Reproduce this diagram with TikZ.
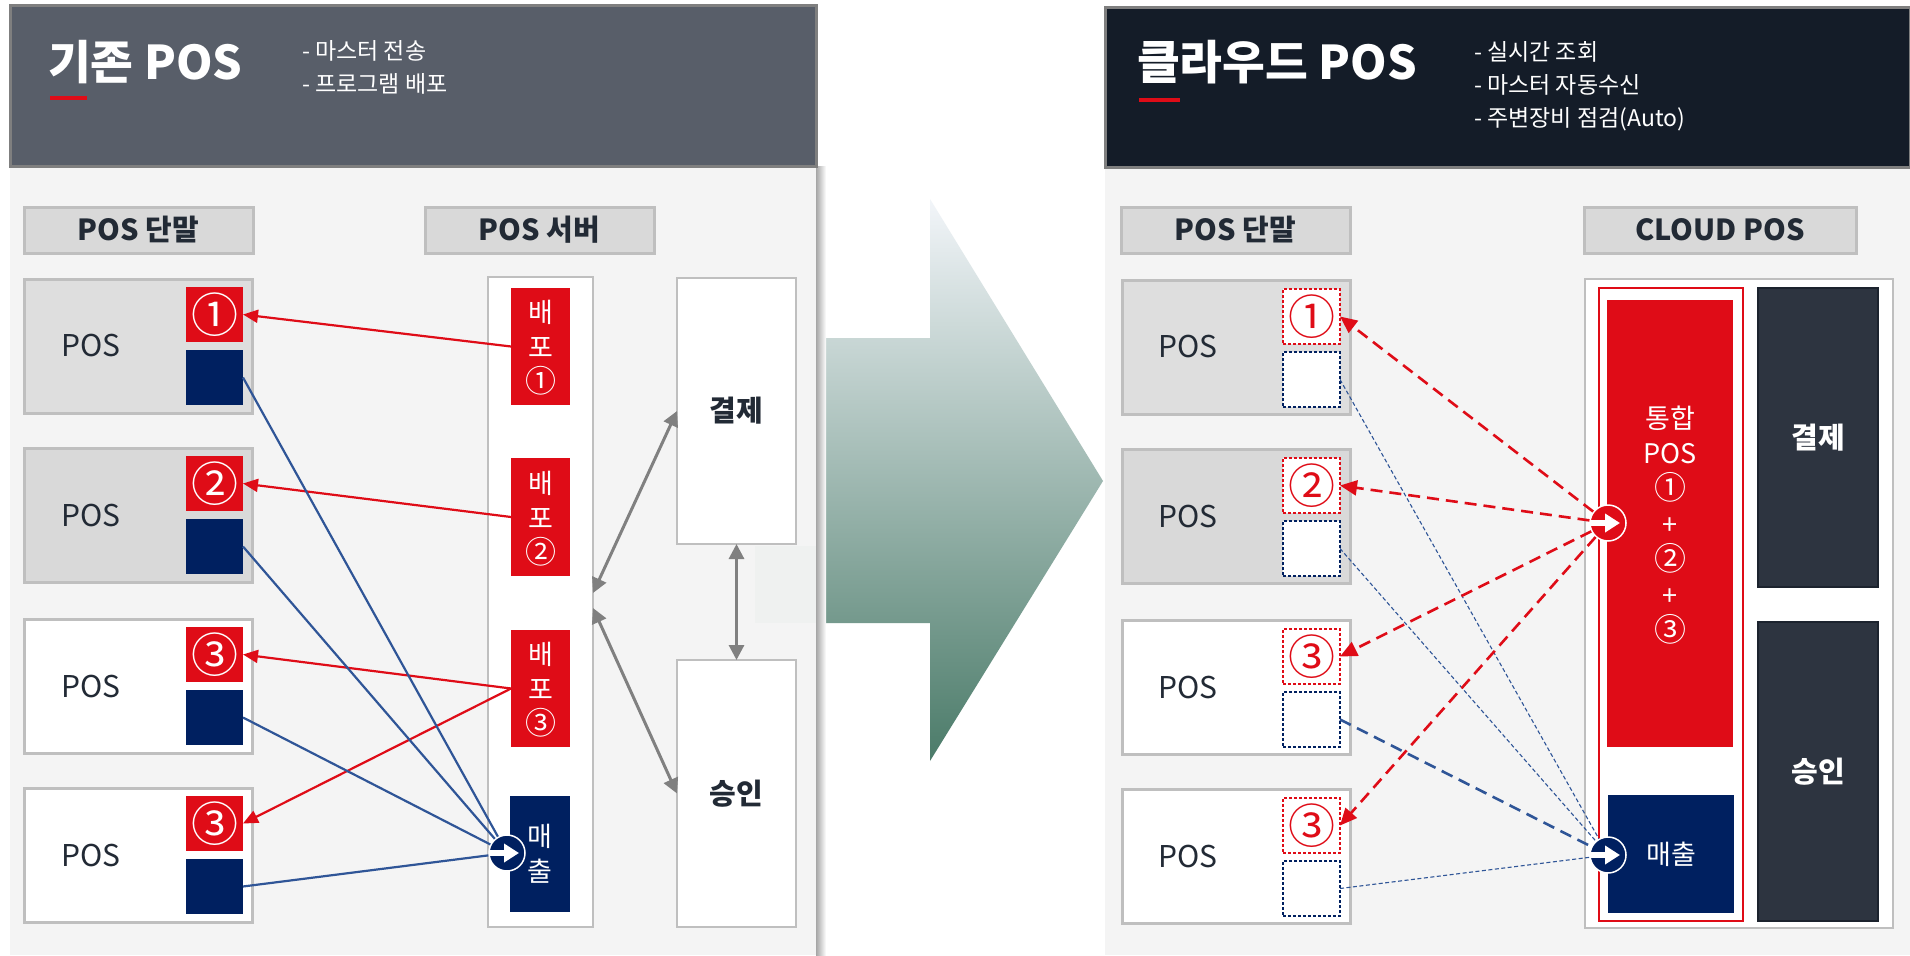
\documentclass[tikz,border=0pt]{standalone}
\usepackage{fontspec}
\setmainfont{Noto Sans CJK KR}
\usetikzlibrary{arrows.meta}
\definecolor{cred}{HTML}{DF0C17}
\definecolor{cnavy}{HTML}{002060}
\definecolor{cblue}{HTML}{2F5597}
\definecolor{clab}{HTML}{D9D9D9}
\definecolor{cbord}{HTML}{BFBFBF}
\definecolor{cpanel}{HTML}{F4F4F4}
\definecolor{cposA}{HTML}{DEDEDE}
\definecolor{cposB}{HTML}{D9D9D9}
\definecolor{cdark}{HTML}{2D3440}
\definecolor{cdarkb}{HTML}{1C232E}
\definecolor{ctext}{HTML}{222A35}
\definecolor{chdrL}{HTML}{585E69}
\definecolor{chdrR}{HTML}{141C28}
\definecolor{chdrB}{HTML}{7F7F7F}
\definecolor{cgray}{HTML}{808080}
\definecolor{arrTop}{HTML}{F2F5F9}
\definecolor{arrMid}{HTML}{9CC0B3}
\definecolor{arrBot}{HTML}{4B7B69}
\newcommand\fsz[2]{\fontsize{#1}{#2}\selectfont}
\newcommand\bigc[2]{\mbox{\fontsize{#1}{#1}\selectfont\smash{#2}}}
% \rbox{name}{style}{x1}{y1}{x2}{y2}{text}
\newcommand\rbox[7]{\node[#2, minimum width={(#5-#3)*1pt}, minimum height={(#6-#4)*1pt}] (#1) at ({(#3+#5)/2},{(#4+#6)/2}) {#7};}
\begin{document}
\begin{tikzpicture}[x=1pt,y=-1pt,
  bx/.style={inner sep=0pt, outer sep=0pt},
  hdrbox/.style={bx, draw=chdrB, line width=3pt},
  titletext/.style={text=white, font=\fsz{46.5}{52}\bfseries, inner sep=0pt, anchor=west},
  bulltext/.style={text=white, font=\fsz{23}{27}, inner sep=0pt, anchor=west},
  labbox/.style={bx, fill=clab, draw=cbord, line width=3pt, text=ctext, font=\fsz{29}{33}\bfseries},
  posbox/.style={bx, draw=cbord, line width=3pt},
  postext/.style={text=ctext, font=\fsz{30}{34}, inner sep=0pt, anchor=west},
  redsq/.style={bx, fill=cred, text=white, font=\fsz{47}{50}},
  bluesq/.style={bx, fill=cnavy},
  redd/.style={bx, fill=white, draw=cred, line width=1.2pt, dash pattern=on 3pt off 2pt, text=cred, font=\fsz{47}{50}},
  blued/.style={bx, fill=white, draw=cnavy, line width=1.2pt, dash pattern=on 3pt off 2pt},
  whitebox/.style={bx, fill=white, draw=cbord, line width=2.5pt},
  deploy/.style={bx, fill=cred, text=white, font=\fsz{27}{35}, align=center},
  salesbox/.style={bx, fill=cnavy, text=white, font=\fsz{27}{35}, align=center},
  darkbox/.style={bx, fill=cdark, draw=cdarkb, line width=2pt, text=white, font=\fsz{29}{34}\bfseries},
  marker/.style={circle, draw=white, line width=1.5pt, minimum size=36pt, inner sep=0pt},
  markarrow/.style={white, line width=6pt, -{Triangle[length=15pt,width=18pt]}},
  redarrow/.style={cred, line width=2.2pt, -{Triangle[length=15pt,width=13pt]}},
  bluelink/.style={cblue, line width=2.2pt},
  grayarrow/.style={cgray, line width=3pt, {Triangle[length=15pt,width=15pt]}-{Triangle[length=15pt,width=15pt]}},
  reddash/.style={cred, line width=2.6pt, dash pattern=on 12pt off 7pt, -{Triangle[length=17pt,width=15pt]}},
  bluedash/.style={cblue, line width=1.1pt, dash pattern=on 4pt off 2.5pt},
  bluedashthick/.style={cblue, line width=2.6pt, dash pattern=on 12pt off 7pt}
]
\useasboundingbox (0,0) rectangle (1910,955);
\fill[white] (0,0) rectangle (1910,955);

% ---------- big transition arrow ----------
\shade[top color=arrTop, middle color=arrMid, bottom color=arrBot]
  (755,338) -- (930,338) -- (930,199) -- (1103,481) -- (930,761) -- (930,623) -- (755,623) -- cycle;

% ---------- left panel ----------
\fill[cpanel] (10,166) rectangle (816,955);
\fill[cpanel!94!arrMid] (755,546) rectangle (816,623);
\shade[left color=black!35, right color=white] (816,166) rectangle (826,955);
\rbox{hdrL}{hdrbox, fill=chdrL}{10}{6}{816}{166}{}
\node[titletext] (titleL) at (48,62) {기존 POS};
\rbox{ulL}{bx, fill=cred}{50}{96}{87}{100}{}
\node[bulltext] (bulL1) at (302,51) {- 마스터 전송};
\node[bulltext] (bulL2) at (302,84) {- 프로그램 배포};

\rbox{labL1}{labbox}{24}{207}{253}{253}{POS 단말}
\rbox{labL2}{labbox}{425}{207}{654}{253}{POS 서버}

% POS terminals (left)
\rbox{pL1}{posbox, fill=cposA}{24}{279}{252}{413}{}
\rbox{pL2}{posbox, fill=cposB}{24}{448}{252}{582}{}
\rbox{pL3}{posbox, fill=white}{24}{619}{252}{753}{}
\rbox{pL4}{posbox, fill=white}{24}{788}{252}{922}{}
\node[postext] (ptL1) at (61,346) {POS};
\node[postext] (ptL2) at (61,515) {POS};
\node[postext] (ptL3) at (61,686) {POS};
\node[postext] (ptL4) at (61,855) {POS};
\rbox{rL1}{redsq}{186}{287}{243}{342}{①}
\rbox{bL1}{bluesq}{186}{350}{243}{405}{}
\rbox{rL2}{redsq}{186}{456}{243}{511}{②}
\rbox{bL2}{bluesq}{186}{519}{243}{574}{}
\rbox{rL3}{redsq}{186}{627}{243}{682}{③}
\rbox{bL3}{bluesq}{186}{690}{243}{745}{}
\rbox{rL4}{redsq}{186}{796}{243}{851}{③}
\rbox{bL4}{bluesq}{186}{859}{243}{914}{}

% POS server
\rbox{srv}{whitebox}{488}{277}{593}{927}{}
\rbox{dep1}{deploy}{511}{288}{570}{405}{배\\포\\\bigc{31}{①}}
\rbox{dep2}{deploy}{511}{458}{570}{576}{배\\포\\\bigc{31}{②}}
\rbox{dep3}{deploy}{511}{630}{570}{747}{배\\포\\\bigc{31}{③}}
\rbox{salesL}{salesbox}{510}{796}{570}{912}{매\\출}
\rbox{payL}{whitebox, text=ctext, font=\fsz{29}{34}\bfseries}{677}{278}{796}{544}{결제}
\rbox{apprL}{whitebox, text=ctext, font=\fsz{29}{34}\bfseries}{677}{660}{796}{927}{승인}

\node[marker, fill=cnavy] (cirL) at (507,853) {};
\draw[markarrow] ([xshift=-17pt]cirL.center) -- ([xshift=12pt]cirL.center);

% left connectors
\draw[redarrow] (dep1.west) -- (rL1.east);
\draw[redarrow] (dep2.west) -- (rL2.east);
\draw[redarrow] (dep3.west) -- (rL3.east);
\draw[redarrow] (dep3.west) -- (rL4.east);
\draw[bluelink] (bL1.east) -- (cirL);
\draw[bluelink] (bL2.east) -- (cirL);
\draw[bluelink] (bL3.east) -- (cirL);
\draw[bluelink] (bL4.east) -- (cirL);
\draw[grayarrow] ([yshift=9pt]srv.east) -- (payL.west);
\draw[grayarrow] ([yshift=-6pt]srv.east) -- (apprL.west);
\draw[grayarrow] (payL.south) -- (apprL.north);

% ---------- right panel ----------
\fill[cpanel] (1105,167) rectangle (1910,955);
\rbox{hdrR}{hdrbox, fill=chdrR}{1105}{8}{1910}{167}{}
\node[titletext] (titleR) at (1137,62) {클라우드 POS};
\rbox{ulR}{bx, fill=cred}{1139}{98}{1180}{102}{}
\node[bulltext] (bulR1) at (1474,52) {- 실시간 조회};
\node[bulltext] (bulR2) at (1474,85) {- 마스터 자동수신};
\node[bulltext] (bulR3) at (1474,119) {- 주변장비 점검(Auto)};

\rbox{labR1}{labbox}{1121}{207}{1350}{253}{POS 단말}
\rbox{labR2}{labbox}{1584}{207}{1856}{253}{CLOUD POS}

\rbox{pR1}{posbox, fill=cposA}{1122}{280}{1350}{414}{}
\rbox{pR2}{posbox, fill=cposB}{1122}{449}{1350}{583}{}
\rbox{pR3}{posbox, fill=white}{1122}{620}{1350}{754}{}
\rbox{pR4}{posbox, fill=white}{1122}{789}{1350}{923}{}
\node[postext] (ptR1) at (1158,347) {POS};
\node[postext] (ptR2) at (1158,516) {POS};
\node[postext] (ptR3) at (1158,687) {POS};
\node[postext] (ptR4) at (1158,856) {POS};
\rbox{cR1}{redd}{1283}{289}{1340}{344}{①}
\rbox{cB1}{blued}{1283}{352}{1340}{407}{}
\rbox{cR2}{redd}{1283}{458}{1340}{513}{②}
\rbox{cB2}{blued}{1283}{521}{1340}{576}{}
\rbox{cR3}{redd}{1283}{629}{1340}{684}{③}
\rbox{cB3}{blued}{1283}{692}{1340}{747}{}
\rbox{cR4}{redd}{1283}{798}{1340}{853}{③}
\rbox{cB4}{blued}{1283}{861}{1340}{916}{}

% cloud POS
\rbox{cloud}{whitebox}{1585}{279}{1893}{928}{}
\rbox{intg}{bx, draw=cred, line width=1.6pt}{1599}{288}{1743}{921}{}
\rbox{intgpos}{bx, fill=cred, text=white, font=\fsz{27}{35.5}, align=center}{1607}{300}{1733}{747}{통합\\POS\\\bigc{32}{①}\\+\\\bigc{32}{②}\\+\\\bigc{32}{③}}
\rbox{salesR}{salesbox}{1608}{795}{1734}{913}{매출}
\rbox{payR}{darkbox}{1758}{288}{1878}{587}{결제}
\rbox{apprR}{darkbox}{1758}{622}{1878}{921}{승인}

\node[marker, fill=cred] (cirR) at (1608,523) {};
\draw[markarrow] ([xshift=-17pt]cirR.center) -- ([xshift=12pt]cirR.center);
\node[marker, fill=cnavy] (cirN) at (1608,855) {};
\draw[markarrow] ([xshift=-17pt]cirN.center) -- ([xshift=12pt]cirN.center);

% right connectors
\draw[bluedash] (cB1.east) -- (cirN);
\draw[bluedash] (cB2.east) -- (cirN);
\draw[bluedashthick] (cB3.east) -- (cirN);
\draw[bluedash] (cB4.east) -- (cirN);
\draw[reddash] (cirR) -- (cR1.east);
\draw[reddash] (cirR) -- (cR2.east);
\draw[reddash] (cirR) -- (cR3.east);
\draw[reddash] (cirR) -- (cR4.east);
\end{tikzpicture}
\end{document}
